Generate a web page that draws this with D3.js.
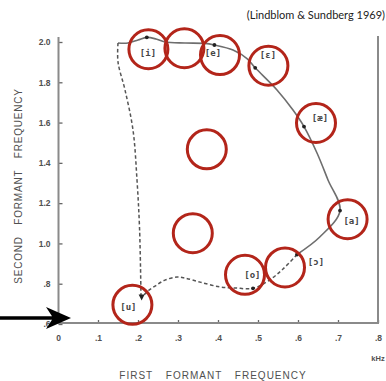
<!DOCTYPE html>
<html><head><meta charset="utf-8">
<script src="https://cdn.jsdelivr.net/npm/d3@7"></script>
<style>
html,body{margin:0;padding:0;background:#fff;}
svg{display:block;}
</style></head>
<body>
<svg id="chart" width="386" height="381"></svg>
<script>
// ---- data ----
const titleText = "(Lindblom & Sundberg 1969)";
const xTicks = [0, 0.1, 0.2, 0.3, 0.4, 0.5, 0.6, 0.7, 0.8];
const xTickLabels = ["0", ".1", ".2", ".3", ".4", ".5", ".6", ".7", ".8"];
const yTicks = [0.6, 0.8, 1.0, 1.2, 1.4, 1.6, 1.8, 2.0];
const yTickLabels = [".6", ".8", "1.0", "1.2", "1.4", "1.6", "1.8", "2.0"];
const xTitle = "FIRST FORMANT FREQUENCY";
const yTitle = "SECOND FORMANT FREQUENCY";
const unitLabel = "kHz";

// vowels (F1, F2 in kHz)
const vowels = ["[i]", "[e]", "[ɛ]", "[æ]", "[a]", "[ɔ]", "[o]", "[u]"];
const vowelF1 = [0.222, 0.391, 0.493, 0.615, 0.705, 0.5975, 0.4875, 0.209];
const vowelF2 = [2.023, 1.985, 1.872, 1.580, 1.163, 0.945, 0.777, 0.731];
const labelF1 = [0.225, 0.3875, 0.525, 0.655, 0.734, 0.645, 0.486, 0.176];
const labelF2 = [1.945, 1.945, 1.935, 1.618, 1.107, 0.903, 0.841, 0.680];

// solid trajectory
const solidF1 = [0.150, 0.175, 0.200, 0.222, 0.245, 0.2675, 0.3175, 0.3675, 0.391, 0.4375, 0.4725, 0.493, 0.5475, 0.5875, 0.615, 0.6475, 0.675, 0.705, 0.655, 0.5975];
const solidF2 = [1.995, 1.995, 2.010, 2.023, 2.015, 2.000, 1.995, 1.993, 1.985, 1.960, 1.918, 1.872, 1.762, 1.662, 1.580, 1.449, 1.315, 1.163, 1.033, 0.945];

// dashed trajectory: [ɔ] -> [o] -> [u]
const dashBackF1 = [0.5975, 0.5625, 0.525, 0.4875, 0.4425, 0.405, 0.355, 0.3175, 0.2975, 0.2675, 0.2425, 0.225, 0.209];
const dashBackF2 = [0.945, 0.873, 0.813, 0.777, 0.779, 0.784, 0.808, 0.828, 0.833, 0.818, 0.788, 0.764, 0.731];

// dashed trajectory: corner -> [u]
const dashUpF1 = [0.150, 0.150, 0.1675, 0.1875, 0.1975, 0.204, 0.2075];
const dashUpF2 = [1.995, 1.901, 1.762, 1.563, 1.315, 1.067, 0.734];

// red highlight circles (centres, kHz)
const circleF1 = [0.226, 0.316, 0.405, 0.526, 0.645, 0.724, 0.5675, 0.4675, 0.186, 0.372, 0.337];
const circleF2 = [1.964, 1.969, 1.935, 1.882, 1.598, 1.120, 0.881, 0.844, 0.695, 1.467, 1.051];

// ---- drawing ----
const svg = d3.select("#chart");
const x = d3.scaleLinear().domain([0, 0.8]).range([58, 378]);
const y = d3.scaleLinear().domain([0.6, 2.0]).range([324, 42]);

const axisColor = "#8a8a8a";
const textColor = "#505050";

// title
svg.append("text").attr("x", 385).attr("y", 19).attr("text-anchor", "end")
  .style("font-family", "Lato, 'Open Sans', sans-serif").style("font-size", "11px")
  .attr("fill", "#222").text(titleText);

// axes
const xAxis = d3.axisBottom(x).tickValues(xTicks)
  .tickFormat((d, i) => xTickLabels[i]).tickSizeInner(-3).tickSizeOuter(0).tickPadding(12);
const yAxis = d3.axisLeft(y).tickValues(yTicks)
  .tickFormat((d, i) => yTickLabels[i]).tickSizeInner(-4).tickSizeOuter(0).tickPadding(8);

const gx = svg.append("g").attr("transform", "translate(0,323)").call(xAxis);
const gy = svg.append("g").attr("transform", "translate(58.5,0)").call(yAxis);
[gx, gy].forEach(g => {
  g.select(".domain").remove();
  g.selectAll(".tick line").attr("stroke", "#666").attr("stroke-width", 1.3);
  g.selectAll(".tick text").attr("fill", textColor)
    .style("font-family", "'Liberation Sans', Arial, sans-serif").style("font-size", "8.5px")
    .style("font-weight", "bold");
});

// frame lines
svg.append("line").attr("x1", 58.5).attr("x2", 58.5).attr("y1", 37).attr("y2", 324)
  .attr("stroke", axisColor).attr("stroke-width", 2);
svg.append("line").attr("x1", 57.5).attr("x2", 379).attr("y1", 323).attr("y2", 323)
  .attr("stroke", axisColor).attr("stroke-width", 2);
svg.append("line").attr("x1", 378).attr("x2", 378).attr("y1", 36).attr("y2", 324)
  .attr("stroke", axisColor).attr("stroke-width", 2);

// unit label
svg.append("text").attr("x", x(0.8)).attr("y", 361).attr("text-anchor", "middle")
  .attr("fill", textColor).style("font-family", "'Liberation Sans', Arial, sans-serif")
  .style("font-size", "7.5px").style("font-weight", "bold").text(unitLabel);

// axis titles
svg.append("text").attr("x", 213).attr("y", 379).attr("text-anchor", "middle")
  .attr("fill", textColor).style("font-family", "'Liberation Sans', Arial, sans-serif")
  .style("font-size", "10px").style("letter-spacing", "1px").style("word-spacing", "9px")
  .text(xTitle);
svg.append("text").attr("transform", "translate(22,186) rotate(-90)").attr("text-anchor", "middle")
  .attr("fill", textColor).style("font-family", "'Liberation Sans', Arial, sans-serif")
  .style("font-size", "10px").style("letter-spacing", "0.8px").style("word-spacing", "8px")
  .text(yTitle);

// trajectories
const line = d3.line().x(d => x(d[0])).y(d => y(d[1])).curve(d3.curveCatmullRom.alpha(0.5));
const zip = (a, b) => a.map((v, i) => [v, b[i]]);

svg.append("path").datum(zip(solidF1, solidF2)).attr("d", line)
  .attr("fill", "none").attr("stroke", "#6e6e6e").attr("stroke-width", 1.6);
svg.append("path").datum(zip(dashBackF1, dashBackF2)).attr("d", line)
  .attr("fill", "none").attr("stroke", "#555").attr("stroke-width", 1.5)
  .attr("stroke-dasharray", "3.5,2.5");
svg.append("path").datum(zip(dashUpF1, dashUpF2)).attr("d", line)
  .attr("fill", "none").attr("stroke", "#555").attr("stroke-width", 1.5)
  .attr("stroke-dasharray", "3.5,2.5");

// vowel points
svg.selectAll("circle.vowel").data(vowels).join("circle").attr("class", "vowel")
  .attr("cx", (d, i) => x(vowelF1[i])).attr("cy", (d, i) => y(vowelF2[i]))
  .attr("r", (d, i) => i === vowels.length - 1 ? 0 : 1.9).attr("fill", "#222");
// arrowhead at [u]
const ux = x(vowelF1[7]), uy = y(vowelF2[7]);
svg.append("path").attr("d", `M${ux - 3},${uy - 3} L${ux + 3},${uy - 3} L${ux},${uy + 3} Z`).attr("fill", "#222");

// vowel labels
svg.selectAll("text.vlab").data(vowels).join("text").attr("class", "vlab")
  .attr("x", (d, i) => x(labelF1[i])).attr("y", (d, i) => y(labelF2[i]))
  .attr("text-anchor", "middle").attr("dominant-baseline", "middle")
  .attr("fill", "#444").style("font-family", "'DejaVu Sans Mono', monospace")
  .style("font-size", "9px").style("font-weight", "bold").text(d => d);

// red circles
svg.selectAll("circle.hl").data(circleF1).join("circle").attr("class", "hl")
  .attr("cx", (d, i) => x(d)).attr("cy", (d, i) => y(circleF2[i])).attr("r", 19.5)
  .attr("fill", "none").attr("stroke", "#b3251a").attr("stroke-width", 3);

// black arrow pointing to the .6 level
svg.append("path")
  .attr("d", "M0,316.2 L52,316.2 L46,307 L71,318 L46,329 L52,319.8 L0,319.8 Z")
  .attr("fill", "#000");
</script>
</body></html>
